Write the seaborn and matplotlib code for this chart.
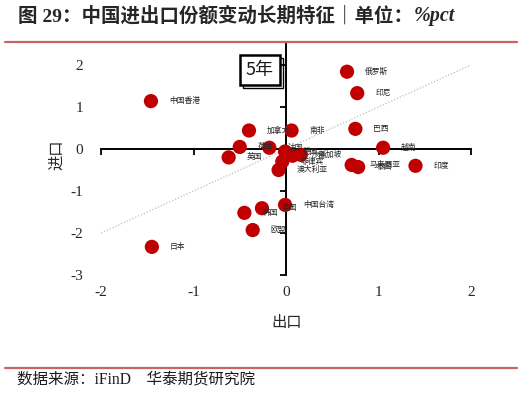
import matplotlib
matplotlib.use("Agg")
import matplotlib.pyplot as plt
import seaborn as sns
import pandas as pd
from matplotlib.lines import Line2D

# ---- data ----
countries = ['中国香港', '加拿大', '荷兰', '英国', '法国', '德国', '沙特', '新加坡',
             '菲律宾', '澳大利亚', '南非', '俄罗斯', '印尼', '巴西', '越南',
             '马来西亚', '泰国', '印度', '日本', '韩国', '美国', '中国台湾', '欧盟']
export_chg = [-1.46, -0.40, -0.50, -0.62, -0.18, -0.01, 0.07, 0.16,
              -0.04, -0.08, 0.06, 0.66, 0.77, 0.75, 1.05,
              0.71, 0.78, 1.40, -1.45, -0.45, -0.26, -0.01, -0.36]
import_chg = [1.14, 0.44, 0.05, -0.20, 0.03, -0.06, -0.16, -0.14,
              -0.30, -0.50, 0.44, 1.84, 1.33, 0.48, 0.03,
              -0.38, -0.43, -0.40, -2.33, -1.52, -1.41, -1.33, -1.93]
x_ticks = [-2, -1, 0, 1, 2]
y_ticks = [-3, -2, -1, 0, 1, 2]
title_main = '图 29：中国进出口份额变动长期特征｜单位：'
title_unit = '%pct'
source_text = '数据来源：iFinD    华泰期货研究院'
period_text = '5年'

df = pd.DataFrame({'country': countries, 'export': export_chg, 'import': import_chg})

sns.set_theme(style='white')
plt.rcParams['font.family'] = ['Noto Sans CJK SC', 'DejaVu Sans']
plt.rcParams['axes.unicode_minus'] = False

W, H = 522, 393
fig = plt.figure(figsize=(W / 100, H / 100), dpi=100)
ax = fig.add_axes([101 / W, 1 - 275 / H, 370 / W, 231 / H])

# reference diagonal
ax.axline((0, 0), slope=1, color='#BFBFBF', lw=0.9, ls=(0, (1, 1.5)), zorder=1)

sns.scatterplot(data=df, x='export', y='import', ax=ax, color='#C00000',
                s=105, edgecolor='none', zorder=3, legend=False)

for name, xv, yv in zip(countries, export_chg, import_chg):
    dx = 14 if name == '美国' else 13
    ax.annotate(name, (xv, yv), xytext=(dx, 0), textcoords='offset points',
                ha='left', va='center', fontsize=5.6, color='#262626', zorder=4)

ax.set_xlim(-2, 2)
ax.set_ylim(-3, 2.5)

# spines at zero
for s in ['top', 'right']:
    ax.spines[s].set_visible(False)
ax.spines['left'].set_position(('data', 0))
ax.spines['bottom'].set_position(('data', 0))
for s in ['left', 'bottom']:
    ax.spines[s].set_color('black')
    ax.spines[s].set_linewidth(1.4)
    ax.spines[s].set_zorder(2)
ax.set_xticks(x_ticks)
ax.set_yticks(y_ticks)
ax.tick_params(axis='both', direction='out', length=4, width=1.3, color='black',
               labelleft=False, labelbottom=False, left=True, bottom=True)
ax.set_xlabel('')
ax.set_ylabel('')

# tick labels at edges (axis labels "low")
secx = ax.secondary_xaxis('bottom')
secx.set_xticks(x_ticks)
secx.set_xticklabels([str(t) for t in x_ticks], fontfamily='Liberation Serif', fontsize=11)
secx.spines['bottom'].set_visible(False)
secx.tick_params(length=0, pad=8)
secy = ax.secondary_yaxis('left')
secy.set_yticks(y_ticks)
secy.set_yticklabels([str(t) for t in y_ticks], fontfamily='Liberation Serif', fontsize=11)
secy.spines['left'].set_visible(False)
secy.tick_params(length=0, pad=13)

fig.text(287 / W, 1 - 322 / H, '出口', ha='center', va='center', fontsize=11)
fig.text(57 / W, 1 - 155 / H, '进口', ha='center', va='center', rotation=90, fontsize=11)

# period box with offset outline shadow
bx, by = 260 / W, 1 - 70 / H
fig.text(bx + 3 / W, by - 3 / H, period_text, ha='center', va='center', fontsize=13,
         color='none', zorder=5,
         bbox=dict(boxstyle='square,pad=0.35', fc='none', ec='black', lw=1.0))
fig.text(bx, by, period_text, ha='center', va='center', fontsize=13, color='#1a1a1a',
         zorder=6, bbox=dict(boxstyle='square,pad=0.35', fc='white', ec='black', lw=1.8))

# title
t1 = fig.text(18 / W, 1 - 16 / H, title_main, ha='left', va='center', fontsize=14,
              fontweight='bold', family=['Liberation Serif', 'Noto Sans CJK SC'])
fig.canvas.draw()
bb = t1.get_window_extent(renderer=fig.canvas.get_renderer())
fig.text(bb.x1 / W + 1 / W, 1 - 16 / H, title_unit, ha='left', va='center', fontsize=14.5,
         fontweight='bold', fontstyle='italic', family='Liberation Serif')

# red rules
fig.add_artist(Line2D([5 / W, 517 / W], [1 - 41.5 / H] * 2, color='#C86464', lw=1.6))
fig.add_artist(Line2D([5 / W, 517 / W], [1 - 367.5 / H] * 2, color='#C86464', lw=1.6))

fig.text(17 / W, 1 - 380 / H, source_text, ha='left', va='center', fontsize=11.2,
         family=['Liberation Serif', 'Noto Sans CJK SC'], color='#1a1a1a')

fig.savefig('out.png', dpi=100)
